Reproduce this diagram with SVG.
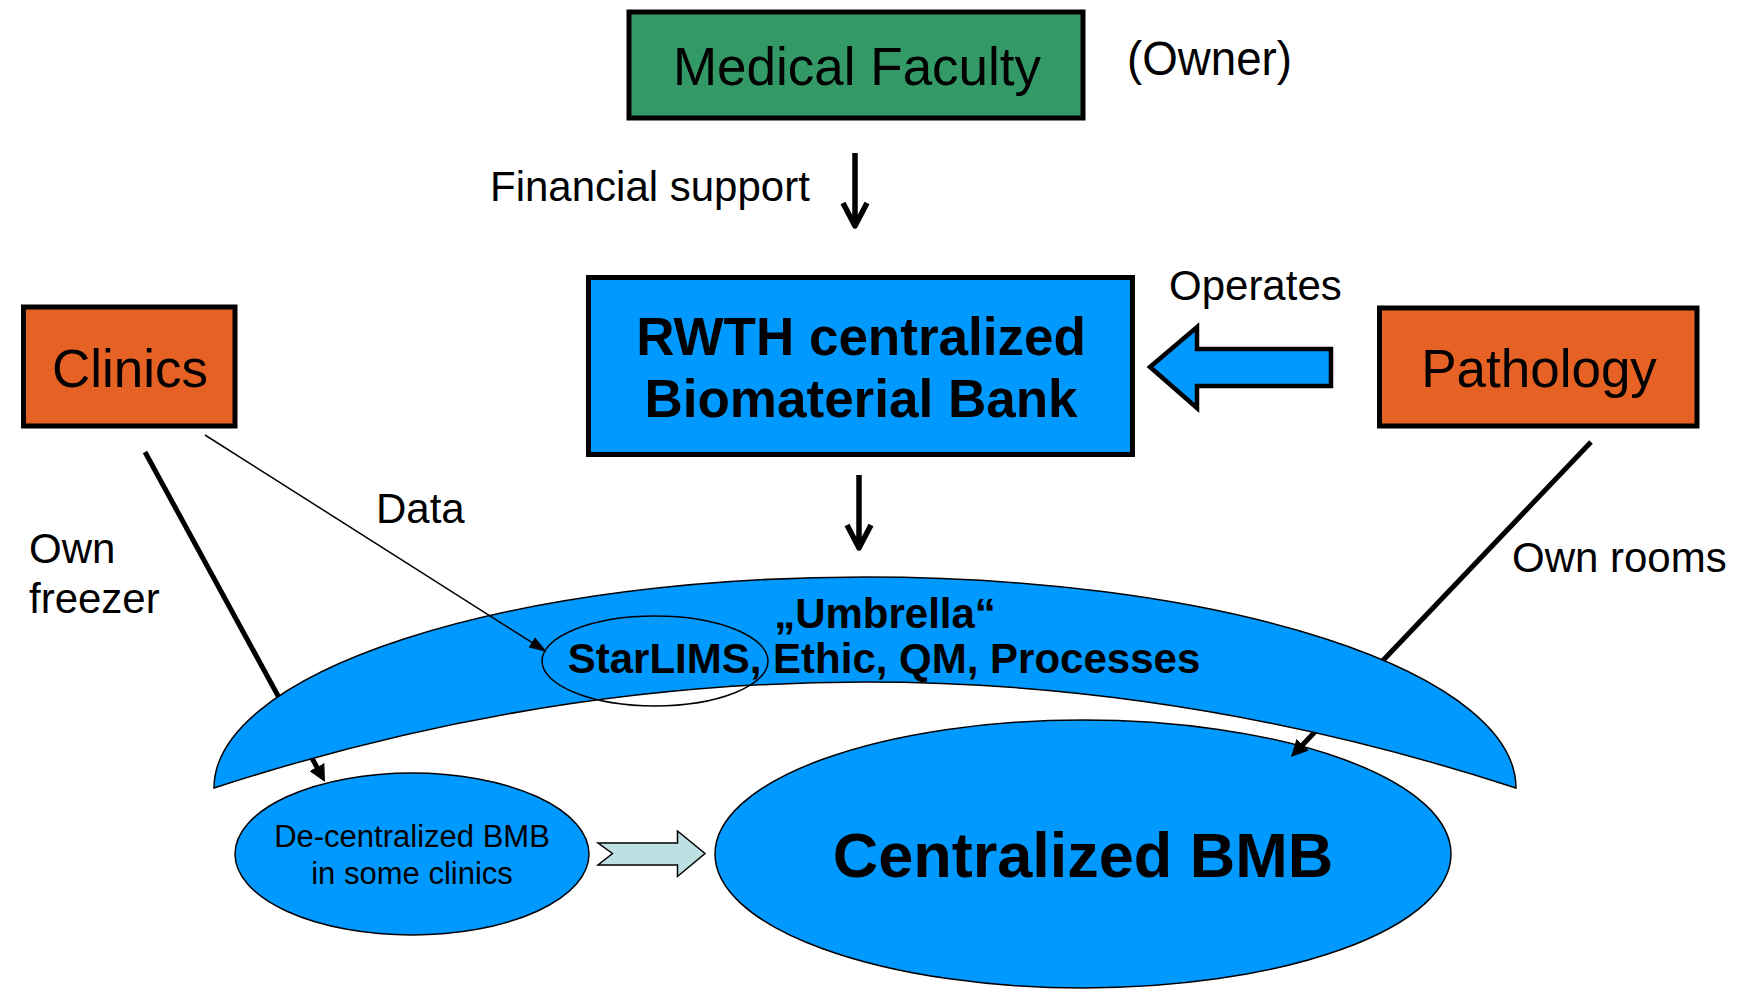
<svg xmlns="http://www.w3.org/2000/svg" width="1753" height="994" viewBox="0 0 1753 994">
<style>
text{font-family:"Liberation Sans",Arial,sans-serif;fill:#000}
.lbl{font-size:42px}
.big{font-size:53px}
.bold{font-weight:bold}
.box{stroke:#000;stroke-width:5}
.thin{stroke:#000;stroke-width:1.5}
.line{fill:none;stroke:#000}
.down{fill:none;stroke:#000;stroke-width:5.5;stroke-linejoin:round}
</style>
<defs>
<marker id="tri" viewBox="0 0 17 17" refX="8" refY="8.5" markerWidth="17" markerHeight="17" markerUnits="userSpaceOnUse" orient="auto">
<path d="M0,0 L17,8.5 L0,17 Z" fill="#000"/>
</marker>
<marker id="triS" viewBox="0 0 18 12" refX="10" refY="6" markerWidth="18" markerHeight="12" markerUnits="userSpaceOnUse" orient="auto">
<path d="M0,0 L18,6 L0,12 Z" fill="#000"/>
</marker>
</defs>
<rect width="1753" height="994" fill="#fff"/>

<g id="centralized-bmb">
<ellipse cx="1083" cy="854" rx="368" ry="134" fill="#0099FF" class="thin"/>
<text x="1083" y="877" text-anchor="middle" class="bold" font-size="63">Centralized BMB</text>
</g>

<g id="decentralized-bmb">
<ellipse cx="412" cy="854" rx="177" ry="81" fill="#0099FF" class="thin"/>
<text x="412" y="847" text-anchor="middle" font-size="31">De-centralized BMB</text>
<text x="412" y="884" text-anchor="middle" font-size="31">in some clinics</text>
</g>

<g id="connectors-under">
<path class="line" stroke-width="5" d="M145,452 L320.7,774.1" marker-end="url(#tri)"/>
<path class="line" stroke-width="5" d="M1591,442 L1297.2,750.5" marker-end="url(#tri)"/>
</g>

<g id="umbrella">
<path d="M214,788 A651,211 0 0 1 1516,788 Q865,576 214,788 Z" fill="#0099FF" class="thin"/>
</g>

<g id="connectors">
<path class="down" d="M855,153 V225 M843,203 L855,226 L867,203"/>
<path class="down" d="M859,475 V547 M847,525 L859,548 L871,525"/>
<path class="line" stroke-width="1.5" d="M205,435 L540.2,647.7" marker-end="url(#triS)"/>
<polygon points="1150,367 1197,327 1197,349 1331,349 1331,386 1197,386 1197,408" fill="#0099FF" stroke="#000" stroke-width="4.5" stroke-linejoin="miter"/>
<polygon points="598,843 677.5,843 677.5,831 705,853.5 677.5,876.5 677.5,865 598,865 612.5,853.5" fill="#BDE0E2" class="thin"/>
</g>

<g id="umbrella-text">
<ellipse cx="655" cy="661" rx="113" ry="45" fill="none" class="thin"/>
<text x="885" y="628" text-anchor="middle" class="bold" font-size="42">„Umbrella“</text>
<text x="884" y="673" text-anchor="middle" class="bold" font-size="42">StarLIMS, Ethic, QM, Processes</text>
</g>

<g id="medical-faculty">
<rect x="629" y="12" width="454" height="106" fill="#339966" class="box"/>
<text x="857" y="85" text-anchor="middle" class="big">Medical Faculty</text>
</g>

<g id="rwth-bank">
<rect x="588.5" y="277.5" width="544" height="177" fill="#0099FF" class="box"/>
<text x="861" y="355" text-anchor="middle" class="bold" font-size="53">RWTH centralized</text>
<text x="861" y="417" text-anchor="middle" class="bold" font-size="53">Biomaterial Bank</text>
</g>

<g id="clinics">
<rect x="23.5" y="307" width="211.5" height="119" fill="#E66124" class="box"/>
<text x="130" y="387" text-anchor="middle" class="big">Clinics</text>
</g>

<g id="pathology">
<rect x="1379.5" y="308" width="317.5" height="118" fill="#E66124" class="box"/>
<text x="1539" y="387" text-anchor="middle" class="big">Pathology</text>
</g>

<g id="labels">
<text x="1127" y="75" font-size="49" textLength="165" lengthAdjust="spacingAndGlyphs">(Owner)</text>
<text x="490" y="201" class="lbl">Financial support</text>
<text x="1169" y="300" class="lbl">Operates</text>
<text x="376" y="523" class="lbl">Data</text>
<text x="29" y="563" class="lbl">Own</text>
<text x="29" y="613" class="lbl">freezer</text>
<text x="1512" y="572" class="lbl">Own rooms</text>
</g>
</svg>
